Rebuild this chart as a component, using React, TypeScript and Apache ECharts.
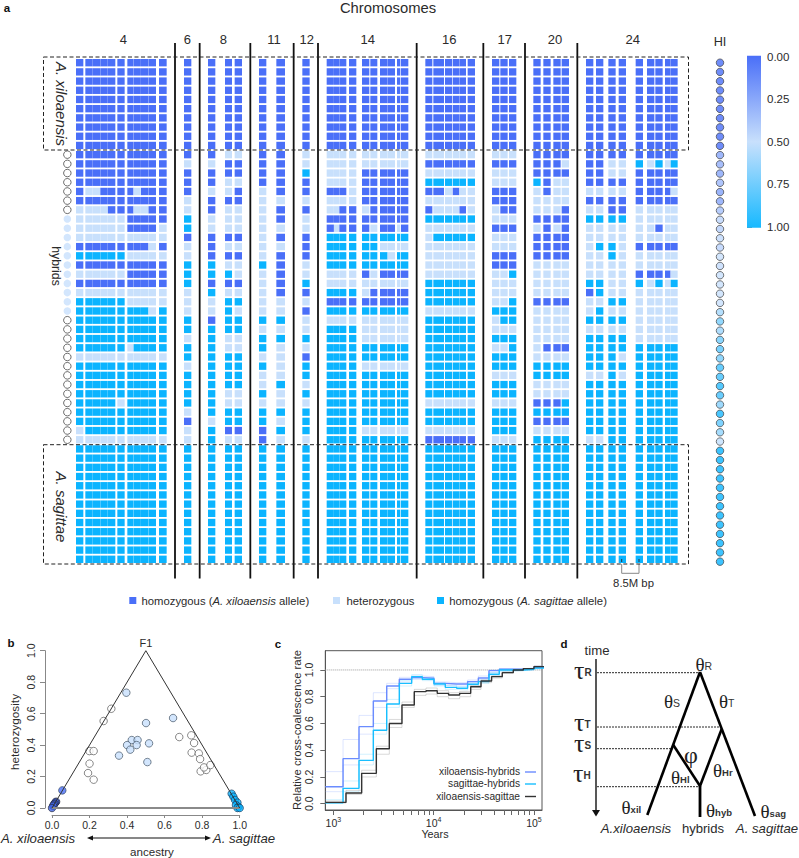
import React, { useEffect, useRef } from "react";
import * as echarts from "echarts";

const SANS = "Liberation Sans";
const SERIF = "Liberation Serif";
const INK = "#2b2b2b";
const COL: Record<string, string> = { X: "#4a6ff8", H: "#c8e0fc", S: "#0bb4ff" };

// Panel a: genome windows along a concatenated genome coordinate
const windowStart = [228, 256, 278.6, 301, 323.6, 352, 382, 400.8, 423, 445.6, 477, 552, 624, 675, 704, 777, 829, 907, 980, 1002, 1018, 1047, 1086, 1111, 1140, 1163, 1191, 1203, 1276, 1300, 1335, 1358, 1378.4, 1403, 1476, 1501, 1527, 1600, 1630, 1660, 1685, 1758, 1788, 1825, 1856, 1907, 1941, 1966, 1995, 2012];
const windowEnd = [250, 278.2, 300.6, 323.2, 346, 374, 400.4, 422.6, 445.2, 468, 500, 574, 646, 696, 726, 799, 855, 929, 1001.6, 1017.6, 1039, 1069, 1108, 1132, 1162.6, 1185, 1201, 1225, 1297, 1332, 1356, 1378, 1398, 1425, 1498, 1523, 1549, 1622, 1652, 1682, 1707, 1780, 1810, 1847, 1878, 1929, 1963, 1988, 2011.6, 2033];
const chromosomes = ["4", "6", "8", "11", "12", "14", "16", "17", "20", "24"];
const chromosomeCentres = [370, 562, 670, 822, 920, 1103, 1348, 1514, 1665, 1898];
const separators = [525, 599, 751, 881, 954, 1250, 1450, 1575, 1732];

const xiloaensisRow = "XXXXXXXXXXX X XXX XX X XXXXXXXXXX XXXXXX XXX XXXX XXXXXXXXX";
const sagittaeRow = "SSSSSSSSSSS S SSS SS S SSSSSSSSSS SSSSSS SSS SSSS SSSSSSSSS";
const xiloaensisCount = 10;
const sagittaeCount = 13;
const hybridRows = [
  "XXXXXXXXXXX X XHH XX H HHHHHHHHHH HHHHHH HHH XXXX XXXXXXXXX",
  "XXXXXXXXXXX H HXX XX H HHHHHHHHHH XXXXXX XXX XXXH XXHHSHSHS",
  "XXXXXXXXXXX X XXX XX S HHHHXXXXXX HHHHHH HHH XXXX XXHHXXXXX",
  "XXXXXXXXXXX X XHH XX X HHHHXXXXXX SSSSSS HHH SXHH XXXXXXXXX",
  "XHHXXXXHXXX X HHX HX X XXXHXXXXXX XXHXHH XXX HXHH HHHHXXXXH",
  "XXXXXXXXXXX H XXX HH H HHHHXXXXXX HHHHHH XXX HHHH XXXXXXXXX",
  "HHHHXXXHHXX H XHH HX X HHXXHXXXXX XHHHXH HXX HHHX HHXXHHHHH",
  "HHHHHHXXXXX S HHH HX H XXXXXXXXXX SSSSSS HHH XXXX SSSSHHHHH",
  "HHHHHHXXXXH S HHH HH H XHXXXHXXHX HHHHHH XXX HXHX HHHHHHXHH",
  "HHHHHHHHHHH X XXX HX X SSSSSSSSSS HSSSSS HHH XXXX HHHHHHHHH",
  "XXXXXXXXXHX H XHH HH X SSSSSSHHHH HHHHHH HHH XXXX HSSHXXXXX",
  "SSSSSSHHHHH H XXX HX X SSSSSSSHSS HHHHHH XXX XXXX HHSHHHHHH",
  "XXXXXXXXXXX S SHH SX H SSSSSSSSSS HHHHHH XXX HHHH HHHHHHHHH",
  "HHHHHHXXXXX S SSH HX H HHHHXHXXXX HHHHHH HHS HHHH HHHHXXXXH",
  "XXXXXXXXXXX S XXX HX S HHHHHHHHHH SSSSSS HHH HHHH SSHHSHSHS",
  "HHHHHHHHHHH H SHH HX X SSSSHXXXXX SSSSSS HHH HHHH XSHHHHHHH",
  "SSSSSSHHHHH H HSS HH H XXXXXXXXXX SSSSSS HHS XXXX HHSSHHHHH",
  "SSSSSSSSSHS H HSH HH X SSSSSSSSSS HHHHHH SSS HHHH HSHHHHHHH",
  "SSSSSSSSSSS S XSS SS H HHHHHHHHHH SSSSSS HSS HHHH SSSSHHHHH",
  "SSSSSSSSSSS S SSS HH H SSSSHHHHHH SSSSSS HHH HHHH HHHHHHHHH",
  "SSSSSSSSSSS H SHH SS S SSSSHHHHHH SSSSSS SSS HHHH SSSSHHHHH",
  "SSSSSSHSSSS S SHH SH H SSSSSSSSSS SSSSSS HHS HXXX SSSSSSSSS",
  "HHHHHHHHHHH S SSS HH X SSSSSSSSSS SSSSSS SSS HHHH SSSHSSSSS",
  "SSSSSSSSSSS H SSS SH S SSSSHHHHHH SSSSSS SSS SSSS SSSSSSSSS",
  "SSSSSSSSSSS S SSS HH S SSSSSSSSSS SSSSSS HHH SSSS HHSHSSSSS",
  "SSSSSSSSSSS S SSS HS H SSSSSSSSSS SSSSSS SSS HHHH SSSSSSSSS",
  "SSSSSSSSSSS S SHH SH S SSSSSSSSSS SSSSSS SSS HHHH SSSSSSSSS",
  "SSSSSHSSSSS S SHH HH H SSSSSSSSSS HHHHHH HHH XXXS SSSSSSSSS",
  "SSSSSSSSSSS H SSS SS S SSSSSSSSSS SSSSSS SSS SSSS SSSSSSSSS",
  "SSSSSSSSSSS X HSS SH S SSSSSSSSSS SSSSSS SSS XXXX SSSSSSSSS",
  "HSSSSSSSSSS H SXX XS S SSSSHHHHHH HHHHHH SSS HHHH SSSSSSSSS",
  "HHHHHHHHHHH H SHH XH H SSSSSSSSSS XXXXXX HHH SSSS HHSSSSSSS",
];
const hybridIndex = [0.24, 0.28, 0.24, 0.32, 0.22, 0.24, 0.36, 0.45, 0.42, 0.47, 0.44, 0.5, 0.48, 0.5, 0.5, 0.5, 0.5, 0.6, 0.72, 0.62, 0.74, 0.8, 0.72, 0.86, 0.86, 0.92, 0.85, 0.68, 0.96, 0.78, 0.65, 0.52];
const outlinedRowsTop = [10, 11, 12, 13, 14, 15, 16];
const filledRows = [17, 18, 19, 20, 21, 22, 23, 24, 25, 26, 27];
const outlinedRowsBottom = [28, 29, 30, 31, 32, 33, 34, 35, 36, 37, 38, 39, 40, 41];

// Panel b
const whitePoints = [[0.316, 0.631], [0.275, 0.553], [0.199, 0.362], [0.222, 0.362], [0.2, 0.282], [0.192, 0.222], [0.222, 0.18], [0.678, 0.451], [0.742, 0.462], [0.757, 0.413], [0.744, 0.352], [0.782, 0.347], [0.789, 0.311], [0.792, 0.233], [0.822, 0.242], [0.81, 0.258], [0.844, 0.273]];
const lightPoints = [[0.396, 0.733], [0.501, 0.54], [0.645, 0.572], [0.425, 0.432], [0.456, 0.432], [0.4, 0.4], [0.451, 0.4], [0.417, 0.371], [0.517, 0.411], [0.357, 0.333], [0.508, 0.292]];
const bluePoints = [[0.055, 0.112]];
const xilPoints = [[0.022, 0.04], [0.018, 0.036], [0.014, 0.028], [0.01, 0.022], [0.006, 0.014], [0, 0]];
const sagPoints = [[0.957, 0.091], [0.966, 0.072], [0.975, 0.051], [0.988, 0.034], [0.98, 0.019], [0.993, 0.008], [0.988, 0], [1, 0]];
const triangle = [[0, 0], [0.5, 1], [1, 0]];
const baseLine = [[0, 0], [1, 0]];
const ternaryTicks = [0, 0.2, 0.4, 0.6, 0.8, 1];

// Panel c
const hybridEdges = [832, 1250, 1803, 2505, 3405, 4550, 6040, 7710, 10070, 13060, 16950, 21800, 27900, 35600, 45100, 60800, 78300, 100000, 132000];
const parentEdges = [832, 1337, 1916, 2684, 3616, 4832, 6410, 8390, 10860, 14090, 18160, 23400, 29650, 37800, 48300, 62200, 78300, 100000, 132000];
const xilHybrids = [0.127, 0.337, 0.576, 0.768, 0.88, 0.93, 0.943, 0.938, 0.9, 0.895, 0.895, 0.913, 0.94, 0.995, 1.005, 1.005, 1.01, 1.02, 1.02];
const xilHybridsHigh = [0.24, 0.48, 0.66, 0.83, 0.9, 0.945, 0.955, 0.95, 0.91, 0.905, 0.905, 0.925, 0.955, 1.0, 1.01, 1.01, 1.015, 1.03, 1.03];
const xilHybridsLow = [0.09, 0.29, 0.52, 0.72, 0.86, 0.91, 0.93, 0.925, 0.885, 0.88, 0.88, 0.9, 0.925, 0.98, 0.995, 1.0, 1.0, 1.01, 1.01];
const sagHybrids = [0.007, 0.115, 0.324, 0.549, 0.746, 0.9, 0.95, 0.93, 0.895, 0.87, 0.863, 0.893, 0.913, 0.968, 1.0, 1.0, 1.005, 1.015, 1.015];
const sagHybridsHigh = [0.03, 0.17, 0.37, 0.6, 0.78, 0.92, 0.965, 0.945, 0.905, 0.885, 0.875, 0.905, 0.925, 0.98, 1.005, 1.005, 1.01, 1.02, 1.02];
const sagHybridsLow = [0.005, 0.09, 0.29, 0.52, 0.72, 0.88, 0.935, 0.92, 0.88, 0.855, 0.85, 0.88, 0.9, 0.955, 0.99, 0.995, 1.0, 1.01, 1.01];
const xilSag = [0.01, 0.08, 0.227, 0.411, 0.6, 0.738, 0.838, 0.845, 0.825, 0.813, 0.825, 0.875, 0.918, 0.95, 0.98, 1.0, 1.01, 1.025, 1.025];
const xilSagHigh = [0.02, 0.1, 0.25, 0.43, 0.63, 0.76, 0.855, 0.865, 0.845, 0.83, 0.84, 0.885, 0.925, 0.955, 0.985, 1.0, 1.01, 1.03, 1.03];
const xilSagLow = [0.005, 0.07, 0.2, 0.37, 0.57, 0.72, 0.81, 0.82, 0.8, 0.785, 0.8, 0.855, 0.905, 0.94, 0.975, 0.995, 1.005, 1.02, 1.02];
const yearMinorTicks = [1000, 2000, 3000, 4000, 5000, 6000, 7000, 8000, 9000, 10000, 20000, 30000, 40000, 50000, 60000, 70000, 80000, 90000, 100000];
const yearLabels = [1000, 10000, 100000];
const ccrTicks = [0, 0.2, 0.4, 0.6, 0.8, 1];

const stepData = (edges: number[], vals: number[]) => vals.map((v, i) => [Math.log10(edges[i]), v]);

const txt = (text: string, x: number, y: number, extra: any = {}, rest: any = {}) => ({
  type: "text", x, y, z: 100, silent: true, ...rest,
  style: { text, fontFamily: SANS, fontSize: 11, fill: INK, align: "center", verticalAlign: "middle", ...extra },
});
const downText = (text: string, x: number, y: number, extra: any = {}) =>
  txt(text, 0, 0, extra, { x, y, rotation: -Math.PI / 2 });
const upText = (text: string, x: number, y: number, extra: any = {}) =>
  txt(text, 0, 0, extra, { x, y, rotation: Math.PI / 2 });
const seg = (x1: number, y1: number, x2: number, y2: number, lineWidth: number, extra: any = {}) => ({
  type: "line", z: 90, silent: true, shape: { x1, y1, x2, y2 },
  style: { stroke: "#111", lineWidth, ...extra },
});
const head = (pts: number[][]) => ({ type: "polygon", z: 95, silent: true, shape: { points: pts }, style: { fill: "#111" } });
const dashRect = (x: number, y: number, width: number, height: number) => ({
  type: "rect", z: 95, silent: true, shape: { x, y, width, height },
  style: { fill: "none", stroke: "#222", lineWidth: 1, lineDash: [4, 2.5] },
});
const swatch = (x: number, fill: string) => ({ type: "rect", z: 90, silent: true, shape: { x, y: 597, width: 7, height: 7 }, style: { fill } });
const greek = (g: string, sub: string, x: number, y: number, size = 19, subSize = 10.5, bold = false) =>
  txt(`{a|${g}}{b|${sub}}`, x, y, {
    align: "left",
    rich: {
      a: { fontFamily: SERIF, fontSize: size, fill: "#222", lineHeight: 17 },
      b: { fontFamily: SANS, fontSize: subSize, fontWeight: bold ? "bold" : "normal", fill: "#333", padding: [4, 0, 0, 0], lineHeight: 12 },
    },
  });
const italicRich = { i: { fontFamily: SANS, fontSize: 11.3, fontStyle: "italic", fill: INK }, n: { fontFamily: SANS, fontSize: 11.3, fill: INK } };

export default function App() {
  const ref = useRef<HTMLDivElement>(null);
  useEffect(() => {
    const chart = echarts.init(ref.current!, undefined, { renderer: "svg" });

    const allRows = [
      ...Array(xiloaensisCount).fill(xiloaensisRow),
      ...hybridRows,
      ...Array(sagittaeCount).fill(sagittaeRow),
    ].map((r: string) => r.replace(/ /g, ""));
    const cells: any[] = [];
    allRows.forEach((r: string, row: number) => {
      windowStart.forEach((s, w) => cells.push([s, windowEnd[w], row, r[w]]));
    });
    const hi = [
      ...Array(xiloaensisCount).fill(0),
      ...hybridIndex,
      ...Array(sagittaeCount).fill(1),
    ].map((v: number, i: number) => [0.5, i, v]);
    const hiColor = (v: number) => echarts.color.lerp(v, [COL.X, COL.H, COL.S]) as string;

    const ringStyle = { color: "#fff", borderColor: "#333", borderWidth: 0.9 };
    const scatterBase = { type: "scatter", xAxisIndex: 3, yAxisIndex: 3, symbolSize: 7.5, clip: false, silent: true };
    const stepBase = { type: "line", step: "end", xAxisIndex: 4, yAxisIndex: 4, showSymbol: false, symbol: "none", silent: true };
    const faint = (name: string, edges: number[], vals: number[], color: string) => ({
      ...stepBase, name, data: stepData(edges, vals), lineStyle: { color, width: 1, opacity: 0.28 },
    });
    const bold = (name: string, edges: number[], vals: number[], color: string) => ({
      ...stepBase, name, data: stepData(edges, vals), lineStyle: { color, width: 1.4 }, z: 5,
    });

    const option: any = {
      animation: false,
      backgroundColor: "#fff",
      grid: [
        { left: 0, top: 58.1, width: 799, height: 505.8 },
        { left: 712, top: 58.08, width: 16, height: 508.2 },
        { left: 747, top: 56.8, width: 14, height: 170 },
        { left: 52, top: 650.7, width: 187.7, height: 157.3 },
        { left: 325.3, top: 650.7, width: 216.7, height: 159.3, show: true, borderColor: "#555", borderWidth: 1, backgroundColor: "transparent" },
      ],
      xAxis: [
        { type: "value", gridIndex: 0, min: 0, max: 2397, show: false },
        { type: "value", gridIndex: 1, min: 0, max: 1, show: false },
        { type: "value", gridIndex: 2, min: 0, max: 1, show: false },
        {
          type: "value", gridIndex: 3, min: 0, max: 1, offset: 7, splitLine: { show: false },
          axisLine: { show: true, onZero: false, lineStyle: { color: "#888" } },
          axisTick: { show: true, length: 3, lineStyle: { color: "#888" }, customValues: ternaryTicks },
          axisLabel: { color: INK, fontFamily: SANS, fontSize: 10.5, margin: 4, customValues: ternaryTicks, formatter: (v: number) => v.toFixed(1), showMinLabel: true, showMaxLabel: true },
        },
        {
          type: "value", gridIndex: 4, min: 2.92, max: 5.08, splitLine: { show: false },
          axisLine: { show: true, onZero: false, lineStyle: { color: "#555" } },
          axisTick: { show: true, length: 5, lineStyle: { color: "#666" }, customValues: yearMinorTicks.map((v) => Math.log10(v)) },
          axisLabel: {
            color: INK, fontFamily: SANS, margin: 6, customValues: yearLabels.map((v) => Math.log10(v)),
            formatter: (v: number) => `{b|10}{s|${Math.round(v)}}`,
            rich: { b: { fontSize: 10.5, fontFamily: SANS, color: INK }, s: { fontSize: 7, fontFamily: SANS, color: INK, padding: [0, 0, 7, 0] } },
          },
        },
      ],
      yAxis: [
        { type: "value", gridIndex: 0, min: -0.5, max: 54.5, inverse: true, show: false },
        { type: "value", gridIndex: 1, min: -0.5, max: 54.5, inverse: true, show: false },
        {
          type: "value", gridIndex: 2, min: 0, max: 1, interval: 0.25, inverse: true, position: "right", splitLine: { show: false },
          axisLine: { show: true, lineStyle: { color: "#999" } },
          axisTick: { show: true, length: 5, lineStyle: { color: "#888" } },
          axisLabel: { color: INK, fontFamily: SANS, fontSize: 11.5, margin: 6, formatter: (v: number) => v.toFixed(2) },
        },
        {
          type: "value", gridIndex: 3, min: 0, max: 1, offset: 7, splitLine: { show: false },
          axisLine: { show: true, onZero: false, lineStyle: { color: "#888" } },
          axisTick: { show: true, length: 5, lineStyle: { color: "#888" }, customValues: ternaryTicks },
          axisLabel: { color: INK, fontFamily: SANS, fontSize: 10.5, rotate: 90, margin: 9, customValues: ternaryTicks, formatter: (v: number) => v.toFixed(1) },
        },
        {
          type: "value", gridIndex: 4, min: -0.047, max: 1.144, splitLine: { show: false },
          axisLine: { show: true, onZero: false, lineStyle: { color: "#555" } },
          axisTick: { show: true, length: 5, lineStyle: { color: "#666" }, customValues: ccrTicks },
          axisLabel: { color: INK, fontFamily: SANS, fontSize: 10.5, rotate: 90, margin: 11, customValues: ccrTicks, formatter: (v: number) => v.toFixed(1) },
        },
      ],
      series: [
        {
          type: "custom", xAxisIndex: 0, yAxisIndex: 0, silent: true, data: cells, encode: { x: [0, 1], y: 2 },
          renderItem: (_: any, api: any) => {
            const a = api.coord([api.value(0), api.value(2) - 0.4]);
            const b = api.coord([api.value(1), api.value(2) + 0.4]);
            return { type: "rect", shape: { x: a[0], y: a[1], width: b[0] - a[0], height: b[1] - a[1] }, style: { fill: COL[api.value(3) as string] } };
          },
        },
        {
          type: "custom", xAxisIndex: 0, yAxisIndex: 0, silent: true, z: 6, data: separators.map((s) => [s]), encode: { x: 0 },
          renderItem: (_: any, api: any) => {
            const a = api.coord([api.value(0), -2.14]);
            const b = api.coord([api.value(0), 56.1]);
            return { type: "line", shape: { x1: a[0], y1: a[1], x2: b[0], y2: b[1] }, style: { stroke: "#111", lineWidth: 1.8 } };
          },
        },
        {
          type: "custom", xAxisIndex: 0, yAxisIndex: 0, silent: true, z: 6, data: chromosomes.map((c, i) => [chromosomeCentres[i], c]), encode: { x: 0 },
          renderItem: (_: any, api: any) => {
            const a = api.coord([api.value(0), -2.5]);
            return { type: "text", x: a[0], y: a[1], style: { text: String(api.value(1)), fontFamily: SANS, fontSize: 13, fill: INK, align: "center", verticalAlign: "middle" } };
          },
        },
        { type: "scatter", xAxisIndex: 0, yAxisIndex: 0, silent: true, clip: false, symbolSize: 7.5, data: [...outlinedRowsTop, ...outlinedRowsBottom].map((r) => [202, r]), itemStyle: ringStyle },
        { type: "scatter", xAxisIndex: 0, yAxisIndex: 0, silent: true, clip: false, symbolSize: 7.5, data: filledRows.map((r) => [202, r]), itemStyle: { color: COL.H } },
        {
          type: "scatter", xAxisIndex: 1, yAxisIndex: 1, silent: true, clip: false, symbolSize: 7.5, data: hi, encode: { x: 0, y: 1 },
          itemStyle: { color: (p: any) => hiColor(p.data[2]), borderColor: "#444", borderWidth: 0.9 },
        },
        {
          type: "custom", xAxisIndex: 2, yAxisIndex: 2, silent: true, data: [[0, 0, 1, 1]], encode: { x: [0, 2], y: [1, 3] },
          renderItem: (_: any, api: any) => {
            const a = api.coord([api.value(0), api.value(1)]);
            const b = api.coord([api.value(2), api.value(3)]);
            return {
              type: "rect", shape: { x: a[0], y: a[1] - 1, width: b[0] - a[0], height: b[1] - a[1] + 2 },
              style: { fill: new echarts.graphic.LinearGradient(0, 0, 0, 1, [{ offset: 0, color: COL.X }, { offset: 0.5, color: COL.H }, { offset: 1, color: "#17b9ff" }]) },
            };
          },
        },
        { type: "line", xAxisIndex: 3, yAxisIndex: 3, data: baseLine, symbol: "none", silent: true, clip: false, lineStyle: { color: "#8a8a8a", width: 2.2 } },
        { type: "line", xAxisIndex: 3, yAxisIndex: 3, data: triangle, symbol: "none", silent: true, clip: false, lineStyle: { color: "#333", width: 1 } },
        { ...scatterBase, data: whitePoints, itemStyle: { color: "#fff", borderColor: "#444", borderWidth: 0.8 } },
        { ...scatterBase, data: lightPoints, itemStyle: { color: COL.H, borderColor: "#345", borderWidth: 0.8 } },
        { ...scatterBase, data: bluePoints, itemStyle: { color: COL.X, borderColor: "#345", borderWidth: 0.8 } },
        { ...scatterBase, data: xilPoints, itemStyle: { color: "#3f63e0", borderColor: "#223", borderWidth: 0.8 } },
        { ...scatterBase, data: sagPoints, itemStyle: { color: COL.S, borderColor: "#135", borderWidth: 0.8 } },
        { type: "line", xAxisIndex: 4, yAxisIndex: 4, data: [[2.92, 1], [5.08, 1]], symbol: "none", silent: true, lineStyle: { color: "#999", width: 1, type: "dotted" } },
        faint("xiloaensis-hybrids high", hybridEdges, xilHybridsHigh, "#8aa5ff"),
        faint("xiloaensis-hybrids low", hybridEdges, xilHybridsLow, "#8aa5ff"),
        faint("sagittae-hybrids high", hybridEdges, sagHybridsHigh, "#5fd0ff"),
        faint("sagittae-hybrids low", hybridEdges, sagHybridsLow, "#5fd0ff"),
        faint("xiloaensis-sagittae high", parentEdges, xilSagHigh, "#777"),
        faint("xiloaensis-sagittae low", parentEdges, xilSagLow, "#777"),
        bold("xiloaensis-hybrids", hybridEdges, xilHybrids, "#6a8cff"),
        bold("sagittae-hybrids", hybridEdges, sagHybrids, "#18bfff"),
        bold("xiloaensis-sagittae", parentEdges, xilSag, "#333"),
      ],
      graphic: {
        elements: [
          txt("a", 7, 8, { fontWeight: "bold", fontSize: 11.5, fill: "#111" }),
          txt("Chromosomes", 388, 8, { fontSize: 14.8 }),
          dashRect(43.5, 57, 645, 93),
          dashRect(43.5, 444.7, 645, 119.3),
          downText("A. xiloaensis", 61.5, 104, { fontStyle: "italic", fontSize: 15 }),
          downText("hybrids", 56, 266, { fontSize: 12.3 }),
          downText("A. sagittae", 61.5, 507, { fontStyle: "italic", fontSize: 15 }),
          txt("HI", 720, 42, { fontSize: 12.7 }),
          { type: "polyline", z: 90, silent: true, shape: { points: [[621.7, 564], [621.7, 573.3], [639, 573.3], [639, 564]] }, style: { stroke: "#888", lineWidth: 1, fill: "none" } },
          seg(621.7, 559, 621.7, 562, 1, { stroke: "#333" }),
          seg(639, 559, 639, 562, 1, { stroke: "#333" }),
          txt("8.5M bp", 633.5, 583, { fontSize: 11.3 }),
          swatch(129.3, COL.X),
          txt("homozygous ({i|A. xiloaensis} allele)", 141.5, 601, { align: "left", fontSize: 11.3, rich: italicRich }),
          swatch(333, COL.H),
          txt("heterozygous", 346.5, 601, { align: "left", fontSize: 11.3 }),
          swatch(437, COL.S),
          txt("homozygous ({i|A. sagittae} allele)", 449.3, 601, { align: "left", fontSize: 11.3, rich: italicRich }),

          txt("b", 11, 643, { fontWeight: "bold", fontSize: 11.5, fill: "#111" }),
          txt("F1", 146, 643, { fontSize: 11 }),
          upText("heterozygosity", 15, 732, { fontSize: 11.8 }),
          txt("A. xiloaensis", 38, 838, { fontStyle: "italic", fontSize: 13.2 }),
          txt("A. sagittae", 244, 838, { fontStyle: "italic", fontSize: 13.2 }),
          txt("ancestry", 152, 851, { fontSize: 11.6 }),
          seg(92, 838, 206, 838, 1.2),
          head([[87, 838], [93, 835.5], [93, 840.5]]),
          head([[211, 838], [205, 835.5], [205, 840.5]]),

          txt("c", 278, 644, { fontWeight: "bold", fontSize: 11.5, fill: "#111" }),
          upText("Relative cross-coalescence rate", 297, 730, { fontSize: 11.3 }),
          txt("Years", 435, 834, { fontSize: 10.8 }),
          txt("xiloaensis-hybrids", 520, 771.7, { align: "right", fontSize: 10.2 }),
          txt("sagittae-hybrids", 520, 783.7, { align: "right", fontSize: 10.2 }),
          txt("xiloaensis-sagittae", 520, 796, { align: "right", fontSize: 10.2 }),
          seg(525, 772, 536, 772, 1.4, { stroke: "#6a8cff" }),
          seg(525, 784, 536, 784, 1.4, { stroke: "#18bfff" }),
          seg(525, 796.5, 536, 796.5, 1.4, { stroke: "#333" }),

          txt("d", 564, 644, { fontWeight: "bold", fontSize: 11.5, fill: "#111" }),
          txt("time", 597, 650, { fontSize: 13.2 }),
          seg(596, 659, 596, 811, 1.4),
          head([[592, 810], [600, 810], [596, 816.5]]),
          greek("τ", "R", 574, 670, 26, 10, true),
          greek("τ", "T", 574, 722, 26, 10, true),
          greek("τ", "S", 574, 743, 26, 10, true),
          greek("τ", "H", 573, 773, 26, 10, true),
          seg(597, 672.7, 700, 672.7, 0.9, { lineDash: [2, 1] }),
          seg(597, 727, 721.7, 727, 0.9, { lineDash: [2, 1] }),
          seg(597, 748.7, 673, 748.7, 0.9, { lineDash: [2, 1] }),
          seg(597, 786.7, 700, 786.7, 0.9, { lineDash: [2, 1] }),
          seg(700, 672, 647.3, 815, 2.6, { stroke: "#000" }),
          seg(700, 672, 755, 816, 2.6, { stroke: "#000" }),
          seg(673.3, 745, 700, 786, 2.6, { stroke: "#000" }),
          seg(721.7, 729, 700, 786, 2.6, { stroke: "#000" }),
          seg(700, 786, 700, 817, 2.8, { stroke: "#000" }),
          greek("θ", "R", 695.5, 664),
          greek("θ", "S", 664, 701),
          greek("θ", "T", 719, 701),
          txt("φ", 691, 755, { fontFamily: SERIF, fontSize: 24, fill: "#222" }),
          greek("θ", "Hl", 671, 777, 19, 9.5, true),
          greek("θ", "Hr", 713, 770, 19, 9.5, true),
          greek("θ", "xil", 621.5, 807, 19, 9.5, true),
          greek("θ", "hyb", 706, 810, 19, 9.5, true),
          greek("θ", "sag", 760.5, 811, 19, 9.5, true),
          txt("A.xiloaensis", 636, 828, { fontStyle: "italic", fontSize: 13.2 }),
          txt("hybrids", 703, 828, { fontSize: 13.1 }),
          txt("A. sagittae", 767, 828, { fontStyle: "italic", fontSize: 13.2 }),
        ],
      },
    };
    chart.setOption(option);
    return () => chart.dispose();
  }, []);
  return <div ref={ref} style={{ position: "absolute", left: 0, top: 0, width: 799, height: 858, background: "#fff" }} />;
}
